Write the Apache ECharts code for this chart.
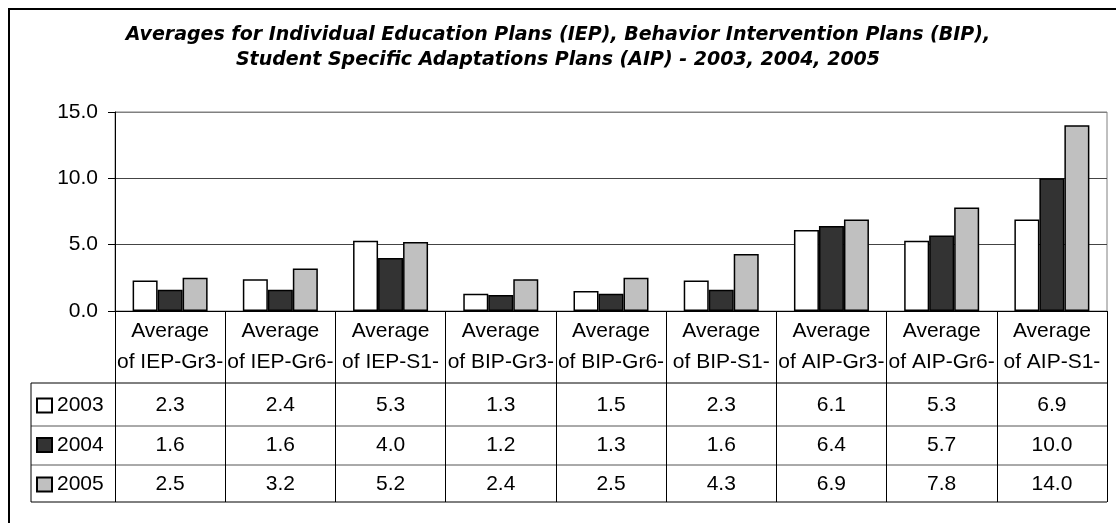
<!DOCTYPE html>
<html>
<head>
<meta charset="utf-8">
<script src="https://cdn.jsdelivr.net/npm/echarts@6/dist/echarts.min.js"></script>
<style>html,body{margin:0;padding:0;background:#fff;}#c{width:1116px;height:523px;}</style>
</head>
<body>
<div id="c"></div>
<script>
var categories = ["Average of IEP-Gr3-", "Average of IEP-Gr6-", "Average of IEP-S1-", "Average of BIP-Gr3-", "Average of BIP-Gr6-", "Average of BIP-S1-", "Average of AIP-Gr3-", "Average of AIP-Gr6-", "Average of AIP-S1-"];
var seriesNames = ["2003", "2004", "2005"];
var values2003 = [2.3, 2.4, 5.3, 1.3, 1.5, 2.3, 6.1, 5.3, 6.9];
var values2004 = [1.6, 1.6, 4.0, 1.2, 1.3, 1.6, 6.4, 5.7, 10.0];
var values2005 = [2.5, 3.2, 5.2, 2.4, 2.5, 4.3, 6.9, 7.8, 14.0];
var yTicks = [0, 5, 10, 15];
var titleLines = ["Averages for Individual Education Plans (IEP), Behavior Intervention Plans (BIP),", "Student Specific Adaptations Plans (AIP) - 2003, 2004, 2005"];

var allValues = [values2003, values2004, values2005];
var colors = ["#ffffff", "#333333", "#c0c0c0"];
var FONT = "'Liberation Sans', Arial, sans-serif";
var TITLE_FONT = "'DejaVu Sans', sans-serif";
var rowMargins = [94, 134, 173];

var chart = echarts.init(document.getElementById('c'), null, {renderer: 'canvas'});

var xAxes = [{
  type: 'category', data: categories, gridIndex: 0, position: 'bottom',
  axisLine: {show: true, lineStyle: {color: '#000', width: 1}},
  axisTick: {show: true, length: 191, interval: 0, lineStyle: {color: '#000', width: 1}},
  axisLabel: {
    interval: 0, margin: 4.5, color: '#000', fontFamily: FONT, fontSize: 21, lineHeight: 31,
    formatter: function (v) { return v.replace(' of ', '\nof '); }
  },
  splitLine: {show: false}
}];
allValues.forEach(function (vals, k) {
  xAxes.push({
    type: 'category', data: categories, gridIndex: 0, position: 'bottom', offset: 0,
    axisLine: {show: false}, axisTick: {show: false}, splitLine: {show: false},
    axisLabel: {
      interval: 0, margin: rowMargins[k], verticalAlign: 'middle', color: '#000',
      fontFamily: FONT, fontSize: 21,
      formatter: function (v, i) { return vals[i].toFixed(1); }
    }
  });
});

var series = allValues.map(function (vals, k) {
  return {
    name: seriesNames[k], type: 'bar', data: vals, xAxisIndex: 0,
    barWidth: 25, barGap: '0%',
    itemStyle: {color: colors[k], borderColor: '#000', borderWidth: 1.5},
    emphasis: {disabled: true}
  };
});

var option = {
  animation: false,
  backgroundColor: '#fff',
  title: {
    text: titleLines.join('\n'), left: 'center', top: 18,
    textStyle: {fontFamily: TITLE_FONT, fontSize: 19, fontWeight: 'bold', fontStyle: 'italic', color: '#000', lineHeight: 25}
  },
  legend: {
    orient: 'vertical', left: 36, top: 395, padding: 0, itemWidth: 15, itemHeight: 14, itemGap: 18.5,
    icon: 'rect', selectedMode: false,
    textStyle: {fontFamily: FONT, fontSize: 21, color: '#000', lineHeight: 21},
    data: seriesNames
  },
  grid: {left: 115, top: 112, right: 9, bottom: 212, show: true, borderColor: '#808080', borderWidth: 1, containLabel: false},
  xAxis: xAxes,
  yAxis: {
    type: 'value', min: yTicks[0], max: yTicks[yTicks.length - 1], interval: 5,
    axisLine: {show: true, lineStyle: {color: '#000', width: 1}},
    axisTick: {show: true, length: 7, lineStyle: {color: '#000'}},
    axisLabel: {margin: 17, color: '#000', fontFamily: FONT, fontSize: 21, formatter: function (v) { return v.toFixed(1); }},
    splitLine: {show: true, lineStyle: {color: ['#000', '#444', '#444', '#808080'], width: 1}}
  },
  graphic: [
    {type: 'rect', shape: {x: 9, y: 9, width: 1200, height: 600}, style: {fill: null, stroke: '#000', lineWidth: 2}, silent: true},
    {type: 'line', shape: {x1: 31, y1: 383, x2: 1107, y2: 383}, style: {stroke: '#000', lineWidth: 1}, silent: true},
    {type: 'line', shape: {x1: 31, y1: 426, x2: 1107, y2: 426}, style: {stroke: '#555', lineWidth: 1}, silent: true},
    {type: 'line', shape: {x1: 31, y1: 465, x2: 1107, y2: 465}, style: {stroke: '#555', lineWidth: 1}, silent: true},
    {type: 'line', shape: {x1: 31, y1: 502, x2: 1107, y2: 502}, style: {stroke: '#000', lineWidth: 1}, silent: true},
    {type: 'line', shape: {x1: 31, y1: 383, x2: 31, y2: 502}, style: {stroke: '#000', lineWidth: 1}, silent: true}
  ],
  series: series
};
chart.setOption(option);
</script>
</body>
</html>
